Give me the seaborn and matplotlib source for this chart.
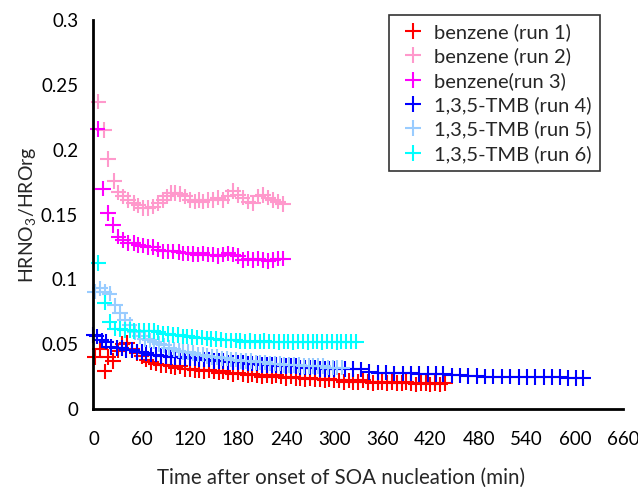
import pandas as pd
import matplotlib.pyplot as plt
import seaborn as sns
from matplotlib.lines import Line2D
from matplotlib.ticker import FuncFormatter

# ---------------------------
# data
# ---------------------------
t_run1 = [2, 8, 14, 18, 24, 30, 36, 42, 48, 54, 60, 66, 72, 78, 84, 90, 96, 102, 108, 114,
          120, 126, 132, 138, 144, 150, 156, 162, 168, 174, 180, 186, 192, 198, 204, 210,
          216, 222, 228, 234, 240, 246, 252, 258, 264, 270, 276, 282, 288, 294, 300, 306,
          312, 318, 324, 330, 336, 342, 348, 354, 360, 366, 372, 378, 384, 390, 396, 402,
          408, 414, 420, 426, 432, 438]
y_run1 = [0.040, 0.046, 0.029, 0.040, 0.037, 0.045, 0.050, 0.051, 0.046, 0.043, 0.041, 0.038,
          0.036, 0.035, 0.034, 0.034, 0.033, 0.032, 0.033, 0.031, 0.031, 0.030, 0.030, 0.029,
          0.030, 0.029, 0.028, 0.029, 0.028, 0.027, 0.028, 0.027, 0.026, 0.027, 0.026, 0.025,
          0.026, 0.025, 0.026, 0.025, 0.024, 0.025, 0.024, 0.024, 0.023, 0.024, 0.023, 0.023,
          0.022, 0.023, 0.022, 0.022, 0.021, 0.022, 0.021, 0.021, 0.022, 0.021, 0.020, 0.021,
          0.021, 0.020, 0.021, 0.020, 0.020, 0.021, 0.020, 0.019, 0.020, 0.020, 0.019, 0.020,
          0.019, 0.020]

t_run2 = [6, 13, 18, 26, 31, 37, 43, 50, 56, 62, 68, 74, 81, 87, 91, 97, 102, 108, 114, 120,
          126, 131, 136, 143, 149, 155, 161, 168, 174, 180, 186, 193, 199, 205, 211, 218, 224,
          230, 236]
y_run2 = [0.237, 0.215, 0.193, 0.176, 0.167, 0.164, 0.161, 0.159, 0.157, 0.155, 0.155, 0.156,
          0.159, 0.161, 0.164, 0.1665, 0.1665, 0.166, 0.164, 0.161, 0.160, 0.161, 0.160, 0.161,
          0.161, 0.163, 0.161, 0.164, 0.168, 0.165, 0.163, 0.160, 0.159, 0.164, 0.165, 0.163,
          0.161, 0.160, 0.158]

t_run3 = [5, 12, 18, 24, 31, 37, 43, 50, 56, 62, 68, 74, 81, 87, 93, 99, 106, 112, 118, 124,
          130, 136, 143, 149, 155, 161, 168, 174, 180, 186, 193, 199, 205, 211, 218, 224, 230,
          236]
y_run3 = [0.216, 0.170, 0.151, 0.142, 0.133, 0.1305, 0.128, 0.128, 0.1265, 0.126, 0.125, 0.125,
          0.123, 0.1215, 0.1215, 0.1215, 0.121, 0.120, 0.120, 0.1195, 0.119, 0.120, 0.119, 0.119,
          0.118, 0.119, 0.120, 0.119, 0.118, 0.115, 0.116, 0.115, 0.116, 0.115, 0.114, 0.115,
          0.116, 0.116]

t_run4 = [0, 4, 10, 16, 22, 29, 35, 41, 48, 54, 60, 66, 72, 78, 84, 90, 96, 102, 108, 114, 120,
          126, 132, 138, 144, 150, 156, 162, 168, 174, 180, 186, 192, 198, 204, 210, 216, 222,
          228, 234, 240, 246, 252, 258, 264, 270, 276, 282, 288, 294, 300, 313, 323, 334, 344,
          355, 365, 375, 386, 396, 406, 417, 427, 436, 447, 457, 467, 478, 488, 498, 509, 519,
          530, 540, 550, 561, 571, 581, 592, 602, 610]
y_run4 = [0.057, 0.056, 0.053, 0.052, 0.048, 0.047, 0.047, 0.0455, 0.0455, 0.044, 0.044, 0.043,
          0.042, 0.042, 0.041, 0.041, 0.040, 0.040, 0.040, 0.039, 0.039, 0.039, 0.038, 0.038,
          0.038, 0.037, 0.037, 0.037, 0.036, 0.036, 0.036, 0.036, 0.035, 0.035, 0.035, 0.034,
          0.034, 0.034, 0.034, 0.033, 0.033, 0.033, 0.033, 0.032, 0.032, 0.032, 0.032, 0.031,
          0.031, 0.031, 0.031, 0.031, 0.031, 0.0305, 0.0285, 0.028, 0.028, 0.0275, 0.0275,
          0.0275, 0.027, 0.027, 0.027, 0.027, 0.026, 0.026, 0.0255, 0.0255, 0.025, 0.025, 0.025,
          0.025, 0.0245, 0.0245, 0.0245, 0.0245, 0.0245, 0.0245, 0.024, 0.024, 0.024]

t_run5 = [2, 8, 14, 20, 27, 33, 39, 45, 52, 58, 64, 70, 76, 82, 88, 94, 100, 106, 112, 118, 124,
          130, 136, 142, 148, 154, 160, 166, 172, 178, 184, 190, 196, 202, 208, 214, 220, 226,
          232, 238, 244, 250, 256, 262, 268, 274, 280, 286, 292, 298, 304, 310]
y_run5 = [0.0905, 0.093, 0.0905, 0.089, 0.080, 0.074, 0.069, 0.065, 0.059, 0.056, 0.054, 0.053,
          0.052, 0.050, 0.049, 0.047, 0.046, 0.045, 0.044, 0.044, 0.043, 0.042, 0.042, 0.041,
          0.040, 0.040, 0.039, 0.039, 0.038, 0.038, 0.037, 0.037, 0.037, 0.036, 0.036, 0.036,
          0.035, 0.035, 0.035, 0.034, 0.034, 0.034, 0.034, 0.033, 0.033, 0.033, 0.033, 0.033,
          0.032, 0.032, 0.032, 0.032]

t_run6 = [6, 14, 20, 27, 33, 39, 45, 51, 57, 63, 69, 75, 81, 87, 93, 99, 105, 111, 117, 123,
          129, 135, 141, 147, 153, 159, 165, 171, 177, 183, 189, 195, 201, 207, 213, 219, 225,
          231, 237, 243, 249, 255, 261, 267, 273, 279, 285, 291, 297, 303, 309, 315, 321, 327]
y_run6 = [0.1125, 0.082, 0.067, 0.062, 0.0615, 0.061, 0.061, 0.060, 0.0605, 0.060, 0.0605, 0.060,
          0.059, 0.058, 0.058, 0.057, 0.057, 0.056, 0.056, 0.0555, 0.055, 0.055, 0.0545, 0.054,
          0.054, 0.0535, 0.053, 0.053, 0.053, 0.0525, 0.052, 0.0525, 0.052, 0.052, 0.0525, 0.052,
          0.052, 0.0515, 0.052, 0.052, 0.0515, 0.052, 0.052, 0.0515, 0.052, 0.052, 0.0515, 0.052,
          0.052, 0.0515, 0.052, 0.052, 0.052, 0.052]

labels = ["benzene (run 1)", "benzene (run 2)", "benzene(run 3)",
          "1,3,5-TMB (run 4)", "1,3,5-TMB (run 5)", "1,3,5-TMB (run 6)"]
colors = ["#FF0000", "#FF99CC", "#FF00FF", "#0000FF", "#99CCFF", "#00FFFF"]
x_ticks = [0, 60, 120, 180, 240, 300, 360, 420, 480, 540, 600, 660]
y_ticks = [0, 0.05, 0.1, 0.15, 0.2, 0.25, 0.3]

series = [(t_run1, y_run1), (t_run2, y_run2), (t_run3, y_run3),
          (t_run4, y_run4), (t_run5, y_run5), (t_run6, y_run6)]
frames = []
for lab, (t, y) in zip(labels, series):
    frames.append(pd.DataFrame({"time": t, "ratio": y, "run": lab}))
df = pd.concat(frames, ignore_index=True)

# ---------------------------
# plot
# ---------------------------
sns.set_style("white")
plt.rcParams["font.family"] = ["Lato", "DejaVu Sans"]
plt.rcParams["mathtext.fontset"] = "custom"
plt.rcParams["mathtext.rm"] = "Lato"

W, H = 638, 487
fig = plt.figure(figsize=(W / 100, H / 100), dpi=100)
ax = fig.add_axes([93.5 / W, 1 - 409 / H, (623 - 93.5) / W, (409 - 20) / H])

palette = dict(zip(labels, colors))
sns.scatterplot(data=df, x="time", y="ratio", hue="run", hue_order=labels,
                palette=palette, marker="+", s=125, linewidth=1.5,
                legend=False, ax=ax, clip_on=False)

ax.set_xlim(0, 660)
ax.set_ylim(0, 0.3)
ax.set_xticks(x_ticks)
ax.set_yticks(y_ticks)
ax.yaxis.set_major_formatter(FuncFormatter(lambda v, p: f"{v:g}"))
ax.set_xlabel("")
ax.set_ylabel("")

for side in ["top", "right"]:
    ax.spines[side].set_visible(False)
for side in ["left", "bottom"]:
    ax.spines[side].set_linewidth(2)
    ax.spines[side].set_color("black")

ax.tick_params(axis="x", direction="in", length=5, width=2, pad=16,
               labelsize=13.5, colors="black")
ax.tick_params(axis="y", direction="in", length=5, width=2, pad=11,
               labelsize=13.5, colors="black")

fig.text(341 / W, 1 - 478 / H, "Time after onset of SOA nucleation (min)",
         ha="center", va="center", fontsize=14.8)
fig.text(28 / W, 1 - 215 / H, r"HRNO$_{\mathregular{3}}$/HROrg", rotation=90,
         ha="center", va="center", fontsize=14)

handles = [Line2D([], [], linestyle="none", marker="+", markersize=11,
                  markeredgewidth=1.5, color=c) for c in colors]
leg = ax.legend(handles, labels, loc="upper right",
                bbox_to_anchor=(600 / W, 1 - 15 / H), bbox_transform=fig.transFigure,
                borderaxespad=0, fancybox=False, frameon=True, fontsize=14.5,
                handlelength=1.6, handletextpad=0.25, labelspacing=0.32,
                borderpad=0.4)
leg.get_frame().set_edgecolor("black")
leg.get_frame().set_linewidth(1.2)

fig.savefig("out.png", dpi=100)
